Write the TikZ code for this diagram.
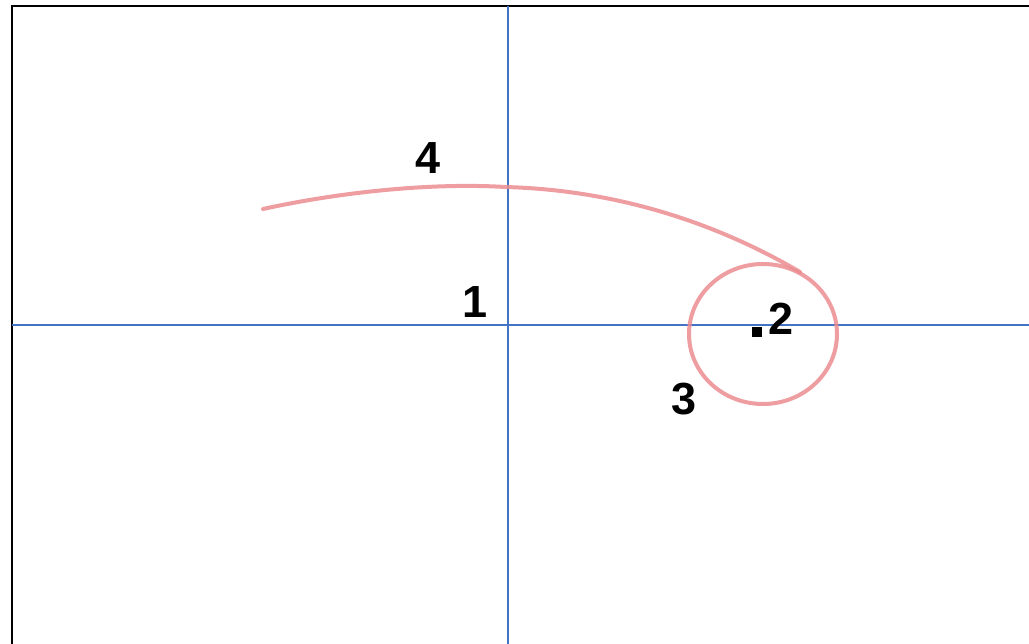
\documentclass[tikz,border=0pt]{standalone}
\usepackage{fontspec}
\setmainfont{Liberation Sans}
\definecolor{axisblue}{RGB}{68,114,196}
\definecolor{pencil}{RGB}{236,140,145}
\tikzset{
  frameline/.style={line width=2.8pt,black},
  axisline/.style={line width=1.6pt,axisblue},
  sketch/.style={line width=4pt,pencil,line cap=round,opacity=0.85},
  lbl/.style={font=\fontsize{45}{48}\selectfont\bfseries,inner sep=0pt,text=black},
  dotsq/.style={fill=black,minimum size=10pt,inner sep=0pt}
}
\begin{document}
\begin{tikzpicture}[x=1pt,y=-1pt]
\useasboundingbox (0,0) rectangle (1029,644);
\fill[white] (0,0) rectangle (1029,644);
% frame
\coordinate (fb) at (12,644);
\coordinate (fc) at (12,6);
\coordinate (fr) at (1029,6);
\draw[frameline] (fb) -- (fc) -- (fr);
% axes
\coordinate (vt) at (508,6);
\coordinate (vb) at (508,644);
\coordinate (hl) at (12,325);
\coordinate (hr) at (1029,325);
\draw[axisline] (vt) -- (vb);
\draw[axisline] (hl) -- (hr);
% sketch curve and loop
\coordinate (cs) at (263,209);
\coordinate (cm) at (505,187);
\coordinate (ce) at (800,272);
\coordinate (cc) at (763,334);
\draw[sketch] (cs) .. controls (350,190) and (440,183) .. (cm) .. controls (620,190) and (720,225) .. (ce);
\draw[sketch] (cc) ellipse [x radius=74, y radius=70];
% labels
\node[lbl] (l4) at (428,158) {4};
\node[lbl] (l1) at (475,302) {1};
\node[lbl] (l2) at (781,319) {2};
\node[dotsq] (d2) at (757,332) {};
\node[lbl] (l3) at (684,399) {3};
\end{tikzpicture}
\end{document}
